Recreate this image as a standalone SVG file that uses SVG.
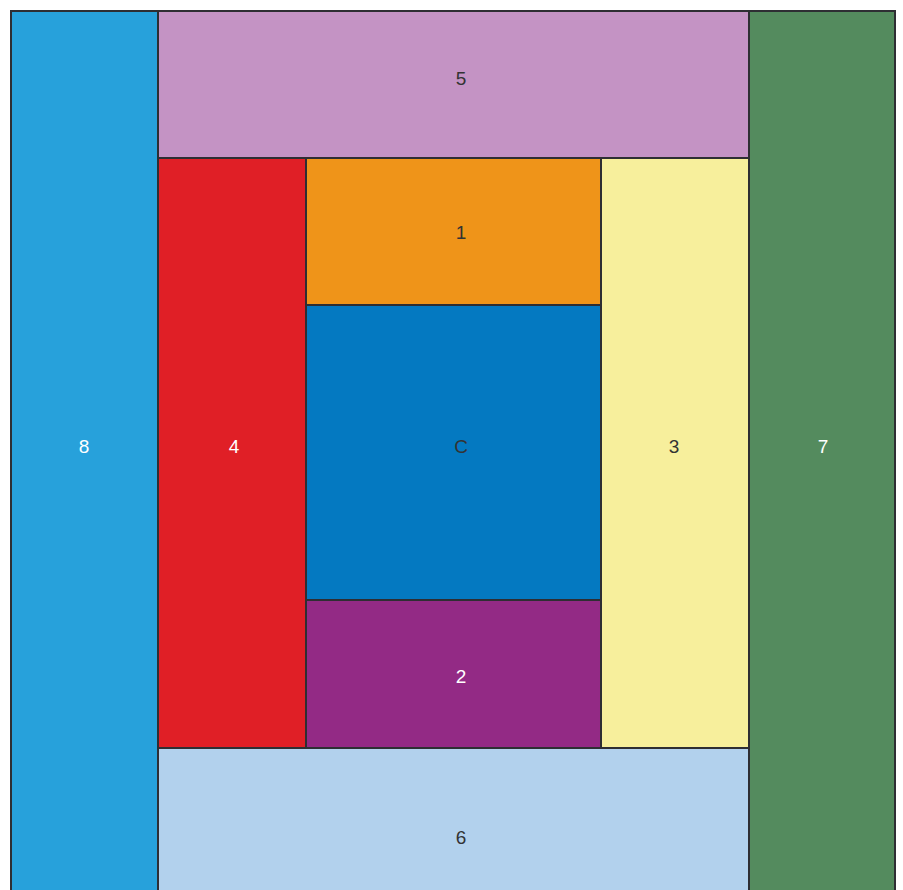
<svg xmlns="http://www.w3.org/2000/svg" width="903" height="890" viewBox="0 0 903 890">
<style>
.b{stroke:#2e2e33;stroke-width:2}
.t{font-family:"Liberation Sans",Arial,sans-serif;font-size:19px;text-anchor:middle;dominant-baseline:central}
.d{fill:#333}
.w{fill:#fff}
</style>
<rect width="903" height="890" fill="#fff"/>
<g id="n8"><rect class="b" x="11" y="11" width="147" height="885" fill="#27a1db"/><text class="t w" x="84" y="446">8</text></g>
<g id="n7"><rect class="b" x="749" y="11" width="146" height="885" fill="#548b5e"/><text class="t w" x="823" y="446">7</text></g>
<g id="n5"><rect class="b" x="158" y="11" width="591" height="147" fill="#c493c4"/><text class="t d" x="461" y="78">5</text></g>
<g id="n6"><rect class="b" x="158" y="748" width="591" height="148" fill="#b2d1ed"/><text class="t d" x="461" y="837">6</text></g>
<g id="n4"><rect class="b" x="158" y="158" width="148" height="590" fill="#e01f26"/><text class="t w" x="234" y="446">4</text></g>
<g id="n3"><rect class="b" x="601" y="158" width="148" height="590" fill="#f7ef9c"/><text class="t d" x="674" y="446">3</text></g>
<g id="n1"><rect class="b" x="306" y="158" width="295" height="147" fill="#ef9419"/><text class="t d" x="461" y="232">1</text></g>
<g id="nC"><rect class="b" x="306" y="305" width="295" height="295" fill="#0479c1"/><text class="t d" x="461" y="446">C</text></g>
<g id="n2"><rect class="b" x="306" y="600" width="295" height="148" fill="#932a85"/><text class="t w" x="461" y="676">2</text></g>
<g id="connectors"></g>
</svg>
